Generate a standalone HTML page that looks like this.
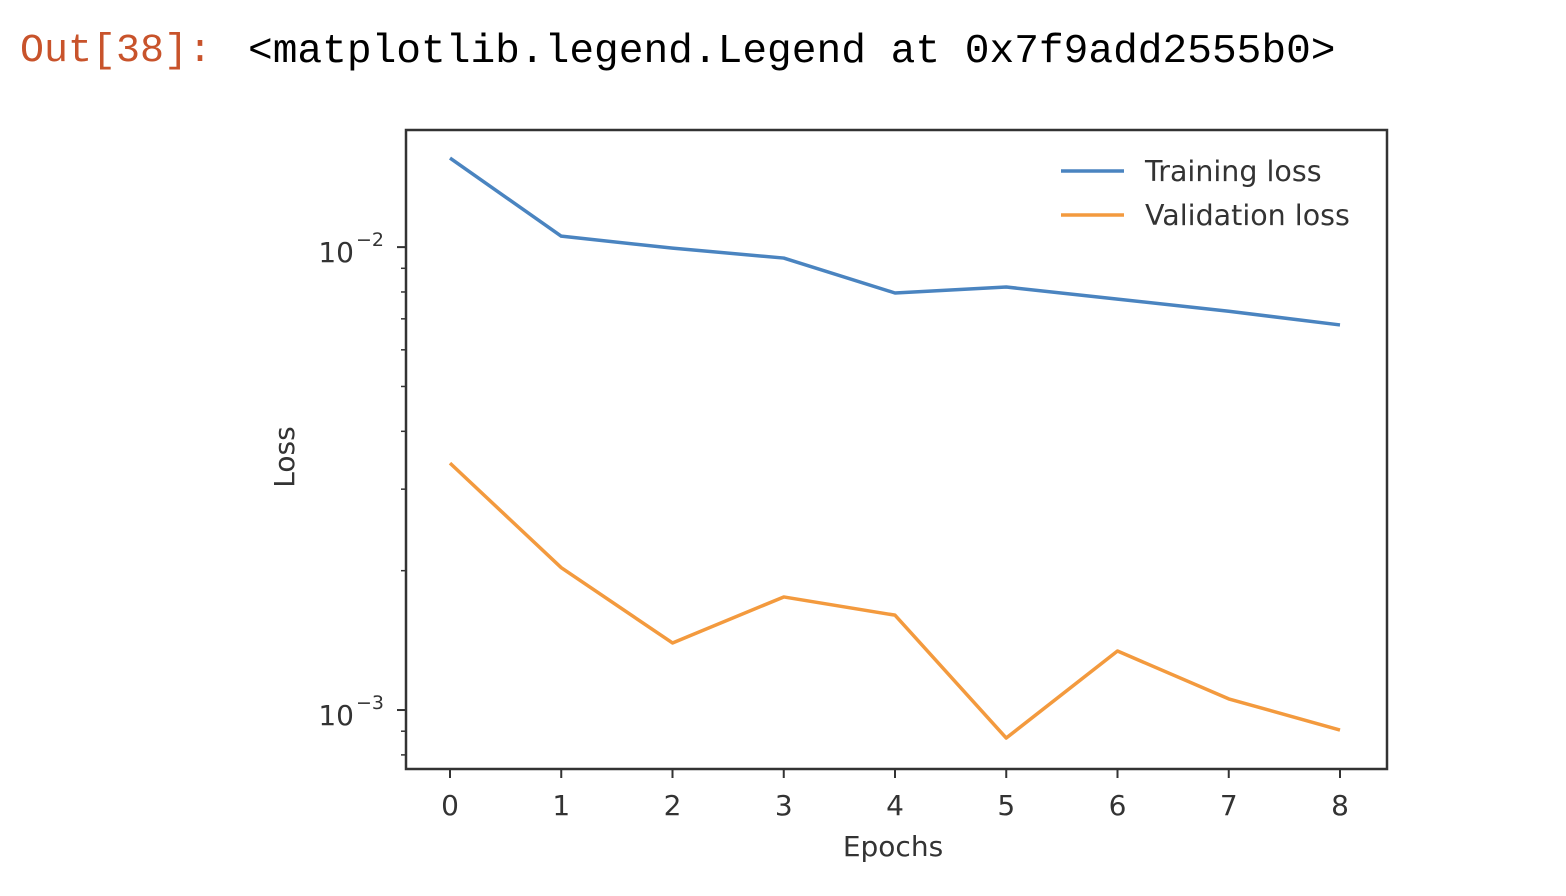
<!DOCTYPE html>
<html><head><meta charset="utf-8"><style>
html,body{margin:0;padding:0;background:#fff;width:1566px;height:896px;overflow:hidden}
#out{position:absolute;left:20px;top:26px;font:40px "Liberation Mono","DejaVu Sans Mono",monospace;color:#c8532b;line-height:52px}
#res{position:absolute;left:248px;top:26px;font:41.2px "Liberation Mono","DejaVu Sans Mono",monospace;color:#000;line-height:52px}
svg{position:absolute;left:0;top:0}
text{font-family:"DejaVu Sans","Liberation Sans",sans-serif;fill:#333}
</style></head><body>
<div id="out">Out[38]:</div>
<div id="res">&lt;matplotlib.legend.Legend at 0x7f9add2555b0&gt;</div>
<svg id="chart" width="1566" height="896"></svg>
<script>
const epochs=[0,1,2,3,4,5,6,7,8];
const trainingLoss=[0.01557,0.01056,0.00995,0.00947,0.00796,0.00820,0.00772,0.00727,0.00679];
const validationLoss=[0.003415,0.00203,0.001396,0.001755,0.001603,0.00087,0.001341,0.001057,0.000905];
const majorTicks=[0.01,0.001];
const majorLabels=[["10","−2"],["10","−3"]];
const minorTicks=[0.0008,0.0009,0.002,0.003,0.004,0.005,0.006,0.007,0.008,0.009];

const L=406,R=1387,T=130,B=769;
const ymaxL=-1.747,yminL=-3.1274;
const xs=v=>450+(v-0)*(1340-450)/8;
const ys=v=>T+(ymaxL-Math.log10(v))/(ymaxL-yminL)*(B-T);
const svg=document.getElementById('chart');
const NS='http://www.w3.org/2000/svg';
function mk(t,a,p){const e=document.createElementNS(NS,t);for(const k in a)e.setAttribute(k,a[k]);(p||svg).appendChild(e);return e;}

let e;
e=mk('rect',{x:L,y:T,width:R-L,height:B-T,fill:'none',stroke:'#333','stroke-width':2.5});



epochs.forEach(v=>{
  const x=xs(v);
  e=mk('line',{x1:x,x2:x,y1:B,y2:B+9,stroke:'#333','stroke-width':2});
  
  
  e=mk('text',{x:x,y:B+46,'font-size':28,'text-anchor':'middle'});e.textContent=v;
  
  
});
majorTicks.forEach((v,i)=>{
  const y=ys(v);
  e=mk('line',{x1:L-9,x2:L,y1:y,y2:y,stroke:'#333','stroke-width':2});
  
  
  e=mk('text',{x:L-52,y:y+15,'font-size':28,'text-anchor':'end'});e.textContent=majorLabels[i][0];
  
  
  const s=mk('tspan',{x:L-50,y:y-1,'font-size':19,'text-anchor':'start'},e);s.textContent=majorLabels[i][1];
});
minorTicks.forEach(v=>{
  const y=ys(v);
  e=mk('line',{x1:L-5,x2:L,y1:y,y2:y,stroke:'#333','stroke-width':1.5});
  
  
});
e=mk('text',{x:893,y:856,'font-size':28,'text-anchor':'middle'});e.textContent='Epochs';


e=mk('text',{x:0,y:0,'font-size':28,'text-anchor':'middle',transform:'translate(294,457) rotate(-90)'});e.textContent='Loss';



function series(vals,color,name){
  const d=vals.map((v,i)=>(i?'L':'M')+xs(epochs[i])+','+ys(v)).join(' ');
  const p=mk('path',{d:d,fill:'none',stroke:color,'stroke-width':3.5,'stroke-linejoin':'round'});
  
  
}
series(trainingLoss,'#4a84c0','training-loss-line');
series(validationLoss,'#f39a3e','validation-loss-line');

[['Training loss','#4a84c0',171],['Validation loss','#f39a3e',215]].forEach(([t,c,y])=>{
  e=mk('line',{x1:1061,x2:1124,y1:y,y2:y,stroke:c,'stroke-width':3.5});
  
  
  e=mk('text',{x:1145,y:y+10,'font-size':28.5});e.textContent=t;
  
  
});
</script>
</body></html>
